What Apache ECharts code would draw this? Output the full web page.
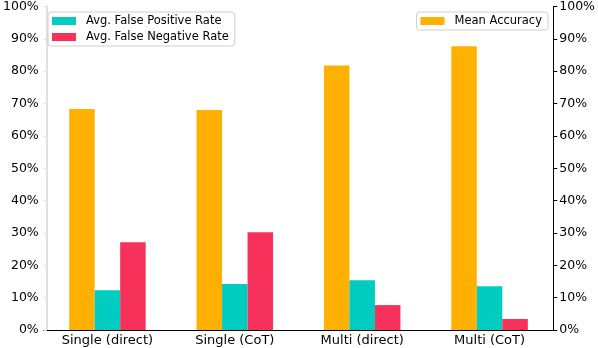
<!DOCTYPE html>
<html>
<head>
<meta charset="utf-8">
<script src="https://cdn.jsdelivr.net/npm/echarts@6/dist/echarts.min.js"></script>
<style>html,body{margin:0;padding:0;background:#fff}#c{width:598px;height:348px}</style>
</head>
<body>
<div id="c"></div>
<script>
const categories = ['Single (direct)', 'Single (CoT)', 'Multi (direct)', 'Multi (CoT)'];
const meanAccuracy = [68.3, 68.0, 81.8, 87.7];
const falsePositive = [12.3, 14.2, 15.4, 13.5];
const falseNegative = [27.1, 30.2, 7.7, 3.4];
const yTicks = [0, 10, 20, 30, 40, 50, 60, 70, 80, 90, 100];

const FONT = 'DejaVu Sans';
const chart = echarts.init(document.getElementById('c'), null, {renderer: 'canvas'});
const yAxisBase = {
  type: 'value', min: yTicks[0], max: yTicks[yTicks.length - 1], interval: 10,
  splitLine: {show: false},
  axisLabel: {formatter: '{value}%', fontFamily: FONT, fontSize: 12.5, color: '#000'}
};
chart.setOption({
  animation: false,
  textStyle: {fontFamily: FONT},
  grid: {left: 40, right: 42, top: 5, bottom: 18, containLabel: false},
  legend: [
    {
      data: ['Avg. False Positive Rate', 'Avg. False Negative Rate'],
      orient: 'vertical', left: 48, top: 12,
      itemWidth: 24, itemHeight: 8, itemGap: 4,
      icon: 'rect',
      padding: [3, 6, 3, 4],
      borderColor: '#d0d0d0', borderWidth: 1, borderRadius: 3,
      backgroundColor: 'rgba(255,255,255,0.8)',
      textStyle: {fontFamily: FONT, fontSize: 11.5, color: '#000', padding: [0, 0, 0, 5]}
    },
    {
      data: ['Mean Accuracy'],
      orient: 'vertical', right: 50, top: 12,
      itemWidth: 24, itemHeight: 8,
      icon: 'rect',
      padding: [3, 6, 3, 4],
      borderColor: '#d0d0d0', borderWidth: 1, borderRadius: 3,
      backgroundColor: 'rgba(255,255,255,0.8)',
      textStyle: {fontFamily: FONT, fontSize: 11.5, color: '#000', padding: [0, 0, 0, 5]}
    }
  ],
  xAxis: [
    {
      type: 'category', data: categories, position: 'bottom',
      axisLine: {lineStyle: {color: '#000', width: 1}},
      axisTick: {show: false},
      axisLabel: {fontFamily: FONT, fontSize: 13, color: '#000', margin: 4}
    },
    {
      type: 'category', data: categories, position: 'top',
      axisLine: {lineStyle: {color: '#000', width: 1}},
      axisTick: {show: false}, axisLabel: {show: false}
    }
  ],
  yAxis: [
    Object.assign({}, yAxisBase, {
      position: 'left', offset: -3,
      axisLine: {show: true, lineStyle: {color: '#e0e0e0', width: 2}},
      axisTick: {show: true, length: 3, lineStyle: {color: '#e0e0e0'}},
      axisLabel: Object.assign({}, yAxisBase.axisLabel, {margin: 8})
    }),
    Object.assign({}, yAxisBase, {
      position: 'right',
      axisLine: {show: true, lineStyle: {color: '#000', width: 1}},
      axisTick: {show: true, length: 4, lineStyle: {color: '#000'}},
      axisLabel: Object.assign({}, yAxisBase.axisLabel, {margin: 6})
    })
  ],
  series: [
    {name: 'Mean Accuracy', type: 'bar', yAxisIndex: 1, data: meanAccuracy,
     barWidth: 25.5, barGap: '0%', itemStyle: {color: '#FFB000'}},
    {name: 'Avg. False Positive Rate', type: 'bar', yAxisIndex: 0, data: falsePositive,
     barWidth: 25.5, barGap: '0%', itemStyle: {color: '#00CCC0'}},
    {name: 'Avg. False Negative Rate', type: 'bar', yAxisIndex: 0, data: falseNegative,
     barWidth: 25.5, barGap: '0%', itemStyle: {color: '#F7325A'}}
  ]
});
</script>
</body>
</html>
